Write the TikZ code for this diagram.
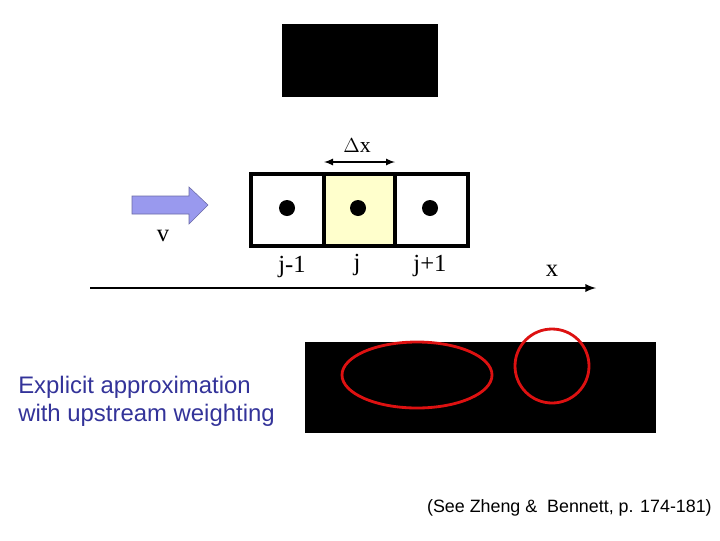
\documentclass[tikz,border=0pt]{standalone}
\usepackage{fontspec}
\setmainfont{Liberation Serif}
\setsansfont{Liberation Sans}
\usepackage{xcolor}
\definecolor{cellyellow}{HTML}{FFFFCC}
\definecolor{flowblue}{HTML}{9999EE}
\definecolor{textblue}{HTML}{333399}
\definecolor{ringred}{HTML}{DD1111}

\begin{document}
\begin{tikzpicture}[
    x=0.025cm, y=-0.025cm,
    cell/.style={draw, line width=2.2pt},
    lbl/.style={font=\fontsize{15.5}{17}\selectfont},
    idx/.style={font=\fontsize{17.5}{19}\selectfont},
    ring/.style={draw=ringred, line width=2pt},
    >=latex
]
  \useasboundingbox (0,0) rectangle (720,540);

  % Black boxes
  \fill (282,24) rectangle (438,97);
  \fill (305,342) rectangle (656,433);

  % Grid cells j-1, j, j+1
  \fill[cellyellow] (324,174) rectangle (395,246);
  \draw[cell] (251,174) rectangle (468,246);
  \draw[cell] (324,174) -- (324,246);
  \draw[cell] (395,174) -- (395,246);

  % Cell centres
  \foreach \cx/\nm in {287/pm, 358/p0, 430/pp} {
    \fill (\cx,208) circle (8) coordinate (\nm);
  }

  % Cell width
  \coordinate (dl) at (324,162);
  \coordinate (dr) at (395,162);
  \draw[<->, line width=1.2pt] (dl) -- (dr);
  \node[lbl] (dx) at (357,146) {$\Delta$x};

  % Velocity arrow
  \filldraw[fill=flowblue, draw=flowblue!70!black, line width=0.4pt]
    (132,196) -- (189,196) -- (189,187) -- (208,205) -- (189,224)
    -- (189,214) -- (132,214) -- cycle;
  \node[idx] (v) at (163,236) {v};

  % Index labels
  \node[idx] (jm) at (292,267) {j-1};
  \node[idx] (j0) at (357,265) {j};
  \node[idx] (jp) at (430,266) {j+1};
  \node[idx] (xl) at (552,271) {x};

  % x axis
  \coordinate (ax0) at (90,288);
  \coordinate (ax1) at (596,288);
  \draw[->, line width=1.6pt] (ax0) -- (ax1);

  % Red marks on the lower box
  \draw[ring] (417,375) ellipse (75 and 33);
  \draw[ring] (552,366) circle (37);

  % Texts
  \node[anchor=west, align=left, text=textblue, font=\sffamily\fontsize{17}{20}\selectfont, inner sep=0pt]
    (note) at (18,401) {Explicit approximation\\with upstream weighting};
  \node[anchor=east, font=\sffamily\fontsize{12.7}{14}\selectfont, inner sep=0pt]
    (refs) at (712,508) {(See Zheng \&\ \ Bennett, p. 174-181)};
\end{tikzpicture}
\end{document}
